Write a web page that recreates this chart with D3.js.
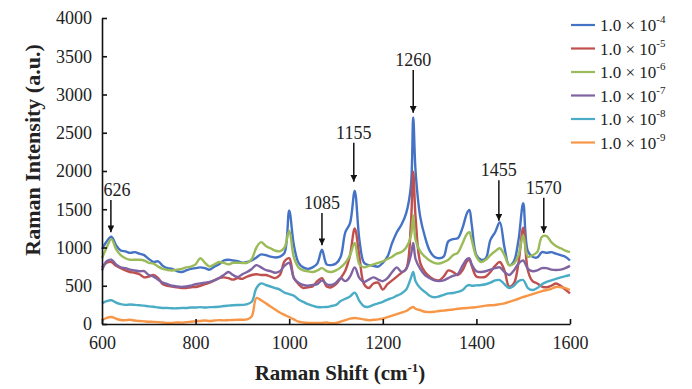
<!DOCTYPE html>
<html>
<head>
<meta charset="utf-8">
<script src="https://cdn.jsdelivr.net/npm/d3@7"></script>
<style>
  body { margin: 0; background: #fff; }
  svg text { font-family: "Liberation Serif", "Times New Roman", serif; fill: #222; }
</style>
</head>
<body>
<div id="chart"></div>
<script>
// wavenumbers (cm-1) shared by every spectrum
var shifts = [600,610,620,630,640,650,660,670,680,690,
  700,710,720,730,740,750,760,770,780,790,
  800,810,820,830,840,850,860,870,880,890,
  900,910,920,930,940,950,960,970,980,990,
  1000,1010,1020,1030,1040,1050,1060,1070,1080,1090,
  1100,1110,1120,1130,1140,1150,1160,1170,1180,1190,
  1200,1210,1220,1230,1240,1250,1260,1265,1270,1280,1290,
  1300,1310,1320,1330,1340,1350,1360,1370,1380,1385,1390,
  1400,1410,1420,1430,1440,1450,1460,1470,1480,1490,
  1500,1510,1520,1530,1540,1550,1560,1570,1580,1590,1600]

var conc1e4 = [980,1080,1140,1030,960,950,930,940,920,900,
  850,810,820,760,730,720,690,680,700,720,
  730,740,730,710,750,780,830,840,830,820,
  800,810,830,870,910,900,880,870,880,930,
  1480,1030,800,740,720,740,790,970,780,770,
  790,880,1200,1320,1740,1100,800,770,760,750,
  800,880,1060,1200,1300,1450,1800,2700,2000,1400,1140,
  960,880,860,880,1080,1110,1120,1250,1450,1490,1300,
  900,840,860,1100,1200,1330,1000,770,820,1100,
  1580,950,880,870,940,930,940,920,900,880,830]

var conc1e5 = [740,800,810,760,730,700,680,670,650,610,
  620,640,600,520,500,490,480,470,470,480,
  484,500,520,540,570,600,610,600,580,600,
  590,620,640,650,640,640,620,600,640,820,
  860,600,520,470,480,490,560,600,490,480,
  520,600,700,900,1250,880,520,470,530,540,
  450,520,570,620,670,720,1300,1990,1400,800,680,
  620,580,570,620,700,680,640,700,820,840,760,
  620,610,620,680,760,810,700,490,530,800,
  1260,700,560,530,490,480,500,530,500,450,400]

var conc1e6 = [860,1000,1110,980,900,860,840,840,840,830,
  800,790,750,720,706,700,710,720,740,750,
  780,860,800,750,780,810,800,780,800,800,
  797,800,850,1000,1070,1020,990,960,950,1000,
  1220,870,740,700,690,680,700,730,690,680,
  700,740,800,900,1060,780,740,760,780,800,
  820,850,880,920,940,1000,1150,1420,1100,950,880,
  830,800,790,810,840,900,930,1050,1180,1200,1100,
  880,810,840,900,950,990,900,770,790,900,
  1160,880,900,940,1140,1150,1070,1020,990,960,940]

var conc1e7 = [700,820,840,780,740,730,710,700,690,690,
  640,620,580,540,520,500,490,485,490,500,
  520,530,540,550,570,600,640,680,640,615,
  650,680,720,770,740,706,690,670,690,760,
  800,600,540,510,500,510,520,570,520,510,
  540,600,560,620,740,600,550,580,610,580,
  560,600,680,740,680,720,900,1060,850,720,640,
  600,570,560,570,600,630,650,760,850,860,780,
  690,680,690,710,730,740,680,640,700,790,
  830,720,690,700,730,730,710,706,710,730,760]

var conc1e8 = [270,300,310,280,260,250,255,250,245,240,
  230,225,215,210,210,205,205,210,210,215,
  215,220,215,220,222,225,235,240,245,248,
  250,260,290,470,530,510,490,470,450,410,
  390,370,320,290,260,240,222,220,222,235,
  250,300,330,360,410,300,230,225,250,270,
  290,320,340,370,400,450,600,680,560,470,420,
  370,350,360,380,400,405,420,440,500,510,500,
  505,510,520,540,570,575,520,470,500,560,
  575,470,444,470,520,550,570,590,610,625,640]

var conc1e9 = [50,80,92,70,52,50,55,45,40,35,
  30,28,25,20,15,15,20,18,25,30,
  35,40,45,40,45,50,48,50,52,55,
  55,60,100,340,310,270,230,190,150,120,
  90,60,30,20,15,15,13,15,20,10,
  15,30,50,70,78,70,60,50,55,60,
  70,90,110,130,150,170,210,222,200,180,160,
  155,160,170,175,183,190,200,205,210,212,215,
  220,230,240,245,248,260,270,290,310,330,
  353,370,390,410,430,444,460,484,480,470,444]

var seriesNames = ["-4","-5","-6","-7","-8","-9"]   // exponent of 1.0 x 10^n
var seriesValues = [conc1e4, conc1e5, conc1e6, conc1e7, conc1e8, conc1e9]
var colors = ["#4472C4","#C0504D","#9BBB59","#8064A2","#4BACC6","#F79646"]

var xTicks = [600,800,1000,1200,1400,1600]
var yTicks = [0,500,1000,1500,2000,2500,3000,3500,4000]

// peak labels: arrow x, arrow tip and arrow tail in data units
var peakLabels = ["626","1085","1155","1260","1455","1570"]
var peakX      = [619, 1070, 1138, 1265, 1448, 1544]
var peakTip    = [1200, 1030, 1860, 2760, 1350, 1190]
var peakTail   = [1620, 1450, 2370, 3320, 1880, 1650]

var W = 692, H = 389
var svg = d3.select("#chart").append("svg")
    .attr("width", W).attr("height", H)

var x = d3.scaleLinear().domain([600,1600]).range([102,570])
var y = d3.scaleLinear().domain([0,4000]).range([324,18])

svg.append("defs").append("marker")
    .attr("id","arrow")
    .attr("viewBox","0 0 10 10")
    .attr("refX",10).attr("refY",5)
    .attr("markerWidth",4.5).attr("markerHeight",4.5)
    .attr("markerUnits","strokeWidth")
    .attr("orient","auto")
    .append("path")
        .attr("d","M0,0 L10,5 L0,10 z")
        .attr("fill","#111")

// spectra
var line = d3.line()
    .x(function(d){ return x(d[0]) })
    .y(function(d){ return y(d[1]) })
    .curve(d3.curveCatmullRom.alpha(0.5))

seriesValues.forEach(function(vals, i){
    svg.append("path")
        .datum(shifts.map(function(s, j){ return [s, vals[j]] }))
        .attr("fill","none")
        .attr("stroke", colors[i])
        .attr("stroke-width", 2.4)
        .attr("stroke-linejoin","round")
        .attr("d", line)
})

// axes
var xAxis = svg.append("g")
    .attr("transform","translate(0,324)")
    .call(d3.axisBottom(x).tickValues(xTicks).tickFormat(d3.format("d"))
        .tickSizeInner(-5).tickSizeOuter(0).tickPadding(12))
var yAxis = svg.append("g")
    .attr("transform","translate(102,0)")
    .call(d3.axisLeft(y).tickValues(yTicks).tickFormat(d3.format("d"))
        .tickSizeInner(-5).tickSizeOuter(0).tickPadding(10))

;[xAxis, yAxis].forEach(function(g){
    g.select(".domain").attr("stroke","#111").attr("stroke-width",1.6)
    g.selectAll(".tick line").attr("stroke","#111").attr("stroke-width",1.6)
    g.selectAll(".tick text").attr("font-size",18).attr("fill","#333")
        .attr("font-family","Liberation Serif")
})

svg.append("text")
    .attr("x", 340).attr("y", 380)
    .attr("text-anchor","middle")
    .attr("font-size",21).attr("font-weight","bold")
    .text("Raman Shift (cm")
    .append("tspan").attr("dy",-8).attr("font-size",13).text("-1")
    .select(function(){ return this.parentNode })
    .append("tspan").attr("dy",8).text(")")

svg.append("text")
    .attr("transform","translate(40,150) rotate(-90)")
    .attr("text-anchor","middle")
    .attr("font-size",22).attr("font-weight","bold")
    .text("Raman Intensity (a.u.)")

// peak annotations
peakLabels.forEach(function(lab, i){
    svg.append("line")
        .attr("x1", x(peakX[i])).attr("x2", x(peakX[i]))
        .attr("y1", y(peakTail[i])).attr("y2", y(peakTip[i]))
        .attr("stroke","#111").attr("stroke-width",1.5)
        .attr("marker-end","url(#arrow)")
    svg.append("text")
        .attr("x", x(peakX[i]) + (i == 0 ? 6 : 0))
        .attr("y", y(peakTail[i]) - 4)
        .attr("text-anchor","middle")
        .attr("font-size",18)
        .text(lab)
})

// legend
var legend = svg.selectAll(".legend")
    .data(seriesNames)
    .enter()
    .append("g")
        .attr("class","legend")
        .attr("transform", function(d,i){ return "translate(571," + (25 + i*23.5) + ")" })

legend.append("line")
    .attr("x1",0).attr("x2",24).attr("y1",0).attr("y2",0)
    .attr("stroke", function(d,i){ return colors[i] })
    .attr("stroke-width",2.2)

var lt = legend.append("text")
    .attr("x",29).attr("y",6)
    .attr("font-size",17)
    .text("1.0 \u00d7 10")
lt.append("tspan").attr("dy",-8).attr("font-size",11).text(function(d){ return d })
</script>
</body>
</html>
